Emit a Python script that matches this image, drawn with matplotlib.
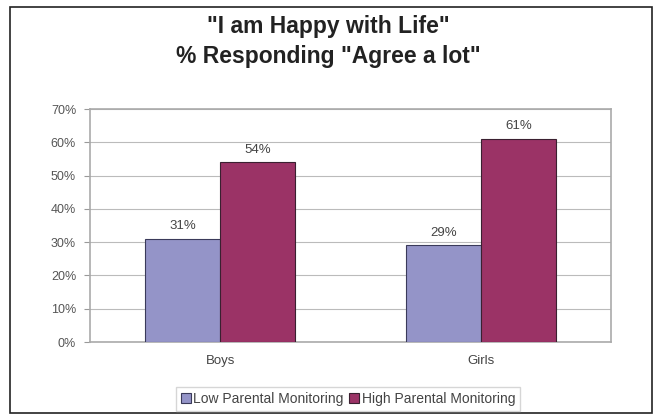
import matplotlib
matplotlib.use("Agg")
import matplotlib.pyplot as plt
import numpy as np
from matplotlib.patches import Rectangle

plt.rcParams['font.family'] = ['Liberation Sans', 'DejaVu Sans']

categories = ["Boys", "Girls"]
series_names = ["Low Parental Monitoring", "High Parental Monitoring"]
low_values = [31, 29]
high_values = [54, 61]
yticks = [0, 10, 20, 30, 40, 50, 60, 70]
ytick_labels = ["0%", "10%", "20%", "30%", "40%", "50%", "60%", "70%"]

fig = plt.figure(figsize=(6.57, 4.15), dpi=100)
ax = fig.add_axes([90/657, 73/415, 521/657, 233/415])

x = np.arange(len(categories))
w = 0.288
low_color = "#9494c8"
high_color = "#9b3366"
b1 = ax.bar(x - w/2, low_values, w, color=low_color, edgecolor="#3a3a5a", linewidth=0.8,
            label=series_names[0], zorder=3)
b2 = ax.bar(x + w/2, high_values, w, color=high_color, edgecolor="#3a2030", linewidth=0.8,
            label=series_names[1], zorder=3)

for bars, vals in ((b1, low_values), (b2, high_values)):
    for rect, v in zip(bars, vals):
        ax.text(rect.get_x() + rect.get_width()/2, v + 2.0, f"{v}%", ha="center", va="bottom",
                fontsize=9.5, color="#444444")

ax.set_xlim(-0.5, 1.5)
ax.set_ylim(0, 70)
ax.set_yticks(yticks)
ax.set_yticklabels(ytick_labels, fontsize=9, color="#555555")
ax.set_xticks(x)
ax.set_xticklabels(categories, fontsize=9.5, color="#444444")
ax.tick_params(axis="x", length=0, pad=9)
ax.tick_params(axis="y", length=4, color="#999999", pad=6)
ax.yaxis.grid(True, color="#bbbbbb", linewidth=0.8, zorder=0)
ax.set_axisbelow(True)
for s in ax.spines.values():
    s.set_color("#aaaaaa")
    s.set_linewidth(1.2)

fig.text(0.5, 1 - 27/415, '"I am Happy with Life"', ha="center", va="center",
         fontsize=16.5, fontweight="bold", color="#222222")
fig.text(0.5, 1 - 56/415, '% Responding "Agree a lot"', ha="center", va="center",
         fontsize=16.5, fontweight="bold", color="#222222")

leg = fig.legend(handles=[b1, b2], labels=series_names, loc="center",
                 bbox_to_anchor=(348/657, 1 - 399/415), ncol=2, fontsize=10,
                 frameon=True, fancybox=False, edgecolor="#cccccc",
                 handlelength=0.7, handleheight=0.7, handletextpad=0.2,
                 columnspacing=0.4, borderpad=0.35)
for t in leg.get_texts():
    t.set_color("#444444")

fig.patches.append(Rectangle((10/657, 1 - 413/415), 642/657, 406/415, transform=fig.transFigure,
                             fill=False, edgecolor="#222222", linewidth=1.2))

fig.savefig("out.png", dpi=100)
